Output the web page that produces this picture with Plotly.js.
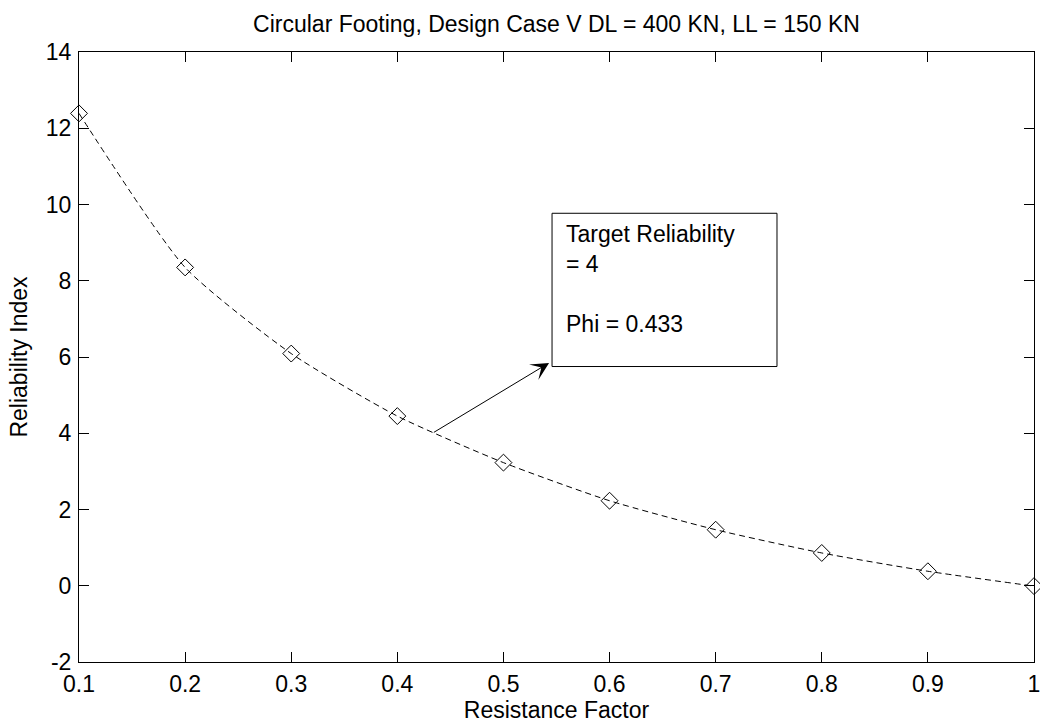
<!DOCTYPE html>
<html>
<head>
<meta charset="utf-8">
<script src="https://cdn.plot.ly/plotly-3.0.1.min.js"></script>
<style>
  html, body { margin: 0; padding: 0; background: #fff; }
  #chart { width: 1040px; height: 725px; }
</style>
</head>
<body>
<div id="chart"></div>
<script>
// ---- data ----
const resistanceFactor = [0.1, 0.2, 0.3, 0.4, 0.5, 0.6, 0.7, 0.8, 0.9, 1.0];
const reliabilityIndex = [12.39, 8.35, 6.09, 4.45, 3.23, 2.23, 1.47, 0.86, 0.38, -0.01];
const xTickVals = [0.1, 0.2, 0.3, 0.4, 0.5, 0.6, 0.7, 0.8, 0.9, 1.0];
const xTickText = ['0.1', '0.2', '0.3', '0.4', '0.5', '0.6', '0.7', '0.8', '0.9', '1'];
const yTickVals = [-2, 0, 2, 4, 6, 8, 10, 12, 14];
const yTickText = ['-2', '0', '2', '4', '6', '8', '10', '12', '14'];
const targetReliability = 4;
const phi = 0.433;
const chartTitle = 'Circular Footing, Design Case V DL = 400 KN, LL = 150 KN';
const xLabel = 'Resistance Factor';
const yLabel = 'Reliability Index';

const FONT = 'Liberation Sans, Arial, Helvetica, sans-serif';
const FS = 23;

const trace = {
  x: resistanceFactor,
  y: reliabilityIndex,
  type: 'scatter',
  mode: 'lines+markers',
  line: { color: '#000', width: 1, dash: '6px,4px', shape: 'spline', smoothing: 0.6 },
  marker: { symbol: 'diamond-open', size: 13, color: '#000', line: { color: '#000', width: 1 } },
  cliponaxis: false,
  hoverinfo: 'skip'
};

const axisCommon = {
  showline: true, mirror: 'allticks', linecolor: '#000', linewidth: 1,
  ticks: 'inside', ticklen: 10, tickwidth: 1, tickcolor: '#000',
  showgrid: false, zeroline: false,
  ticklabeloverflow: 'allow',
  tickfont: { family: FONT, size: FS, color: '#000' }
};

const layout = {
  width: 1040, height: 725,
  paper_bgcolor: '#fff', plot_bgcolor: '#fff',
  margin: { l: 79, r: 6, t: 52, b: 63, pad: 0 },
  showlegend: false,
  font: { family: FONT, size: FS, color: '#000' },
  title: {
    text: chartTitle,
    font: { family: FONT, size: FS, color: '#000' },
    x: 0.5, xref: 'paper', y: 1 - 24 / 725, yref: 'container', yanchor: 'middle'
  },
  xaxis: Object.assign({}, axisCommon, {
    range: [0.09999, 1.00001],
    tickmode: 'array', tickvals: xTickVals, ticktext: xTickText,
    ticklabelstandoff: 1,
    title: { text: xLabel, font: { family: FONT, size: FS, color: '#000' }, standoff: 3 },
    automargin: false
  }),
  yaxis: Object.assign({}, axisCommon, {
    range: [-2, 14],
    tickmode: 'array', tickvals: yTickVals, ticktext: yTickText,
    ticklabelstandoff: 2,
    title: { text: yLabel, font: { family: FONT, size: FS, color: '#000' }, standoff: 11 },
    automargin: false
  }),
  shapes: [{
    type: 'rect', xref: 'x', yref: 'y',
    x0: 0.5458, x1: 0.7578, y0: 5.75, y1: 9.77,
    line: { color: '#000', width: 1 }, fillcolor: 'rgba(0,0,0,0)'
  }],
  annotations: [
    {
      xref: 'x', yref: 'y', x: 0.5575, y: 9.62,
      xanchor: 'left', yanchor: 'top', align: 'left',
      showarrow: false,
      text: 'Target Reliability<br>= ' + targetReliability + '<br><br>Phi = ' + phi,
      font: { family: FONT, size: FS, color: '#000' }
    },
    {
      xref: 'x', yref: 'y', axref: 'x', ayref: 'y',
      x: 0.543, y: 5.845, ax: phi, ay: targetReliability,
      text: '', showarrow: true, arrowhead: 3, arrowsize: 3, arrowwidth: 1,
      arrowcolor: '#000', standoff: 0, startstandoff: 0
    }
  ]
};

Plotly.newPlot('chart', [trace], layout, { staticPlot: true, displayModeBar: false });
</script>
</body>
</html>
